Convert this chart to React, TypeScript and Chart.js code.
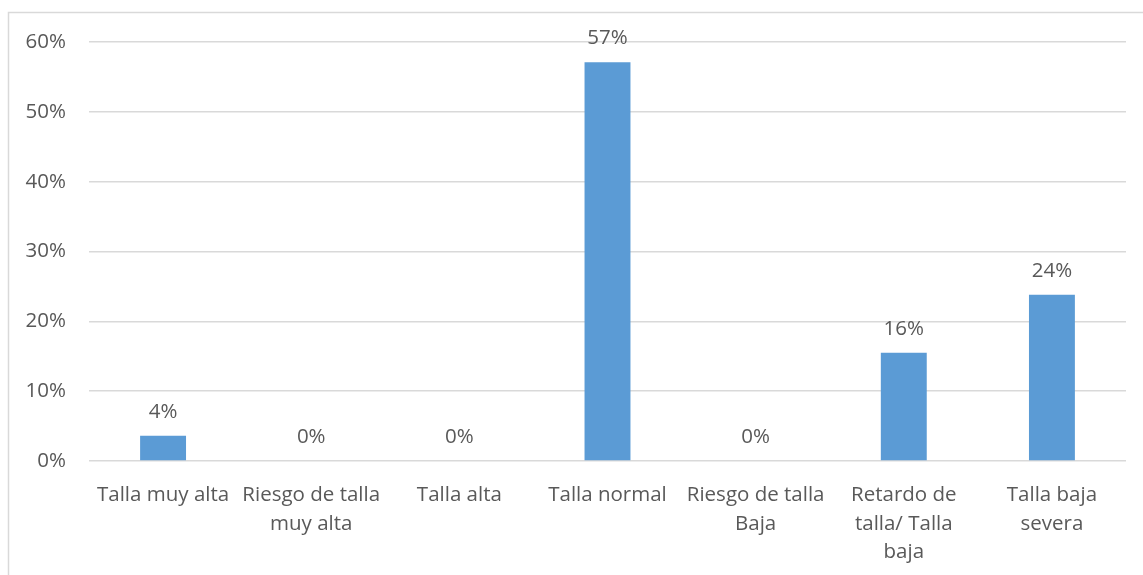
import React, { useEffect, useRef } from "react";
import { Chart, registerables } from "chart.js";

Chart.register(...registerables);

const categories: string[][] = [
  ["Talla muy alta"],
  ["Riesgo de talla", "muy alta"],
  ["Talla alta"],
  ["Talla normal"],
  ["Riesgo de talla", "Baja"],
  ["Retardo de", "talla/ Talla", "baja"],
  ["Talla baja", "severa"],
];
const values: number[] = [3.6, 0, 0, 57.1, 0, 15.5, 23.8];
const yTicks: number[] = [0, 10, 20, 30, 40, 50, 60];

const FONT = "'Open Sans', 'DejaVu Sans', sans-serif";
const TEXT = "#595959";
const GRID = "#d9d9d9";
const BAR = "#5B9BD5";
const FS = 20.5;

const framePlugin = {
  id: "frame",
  beforeDraw(chart: any) {
    const ctx = chart.ctx;
    ctx.save();
    ctx.strokeStyle = GRID;
    ctx.lineWidth = 1.5;
    ctx.beginPath();
    ctx.moveTo(8.5, chart.height);
    ctx.lineTo(8.5, 12.5);
    ctx.lineTo(chart.width, 12.5);
    ctx.stroke();
    ctx.restore();
  },
};

const labelPlugin = {
  id: "barLabels",
  afterDatasetsDraw(chart: any) {
    const ctx = chart.ctx;
    const meta = chart.getDatasetMeta(0);
    ctx.save();
    ctx.font = `${FS}px ${FONT}`;
    ctx.fillStyle = TEXT;
    ctx.textAlign = "center";
    ctx.textBaseline = "alphabetic";
    meta.data.forEach((el: any, i: number) => {
      const v = values[i];
      ctx.fillText(Math.round(v) + "%", el.x, el.y - 18);
    });
    ctx.restore();
  },
};

export default function App() {
  const ref = useRef<HTMLCanvasElement>(null);
  useEffect(() => {
    if (!ref.current) return;
    const chart = new Chart(ref.current, {
      type: "bar",
      data: {
        labels: categories,
        datasets: [
          {
            data: values,
            backgroundColor: BAR,
            borderWidth: 0,
            categoryPercentage: 1,
            barPercentage: 0.31,
          },
        ],
      },
      options: {
        animation: false,
        responsive: true,
        maintainAspectRatio: false,
        layout: { padding: { top: 42, right: 17, left: 0, bottom: 0 } },
        plugins: { legend: { display: false }, tooltip: { enabled: false } },
        scales: {
          x: {
            grid: { display: false },
            border: { display: false },
            ticks: {
              color: TEXT,
              font: { family: FONT, size: FS, lineHeight: 1.39 },
              maxRotation: 0,
              autoSkip: false,
              padding: 12,
            },
            afterFit: (axis: any) => {
              axis.height = 114;
            },
          },
          y: {
            min: 0,
            max: 60,
            afterBuildTicks: (axis: any) => {
              axis.ticks = yTicks.map((v) => ({ value: v }));
            },
            grid: { color: GRID, lineWidth: 1.5, drawTicks: false },
            border: { display: false },
            ticks: {
              color: TEXT,
              font: { family: FONT, size: FS },
              padding: 23,
              callback: (v: any) => v + "%",
            },
            afterFit: (axis: any) => {
              axis.width = 89;
            },
          },
        },
      },
      plugins: [framePlugin, labelPlugin],
    });
    return () => chart.destroy();
  }, []);
  return (
    <div style={{ position: "fixed", left: 0, top: 0, width: 1143, height: 575, background: "#fff" }}>
      <canvas ref={ref} />
    </div>
  );
}
